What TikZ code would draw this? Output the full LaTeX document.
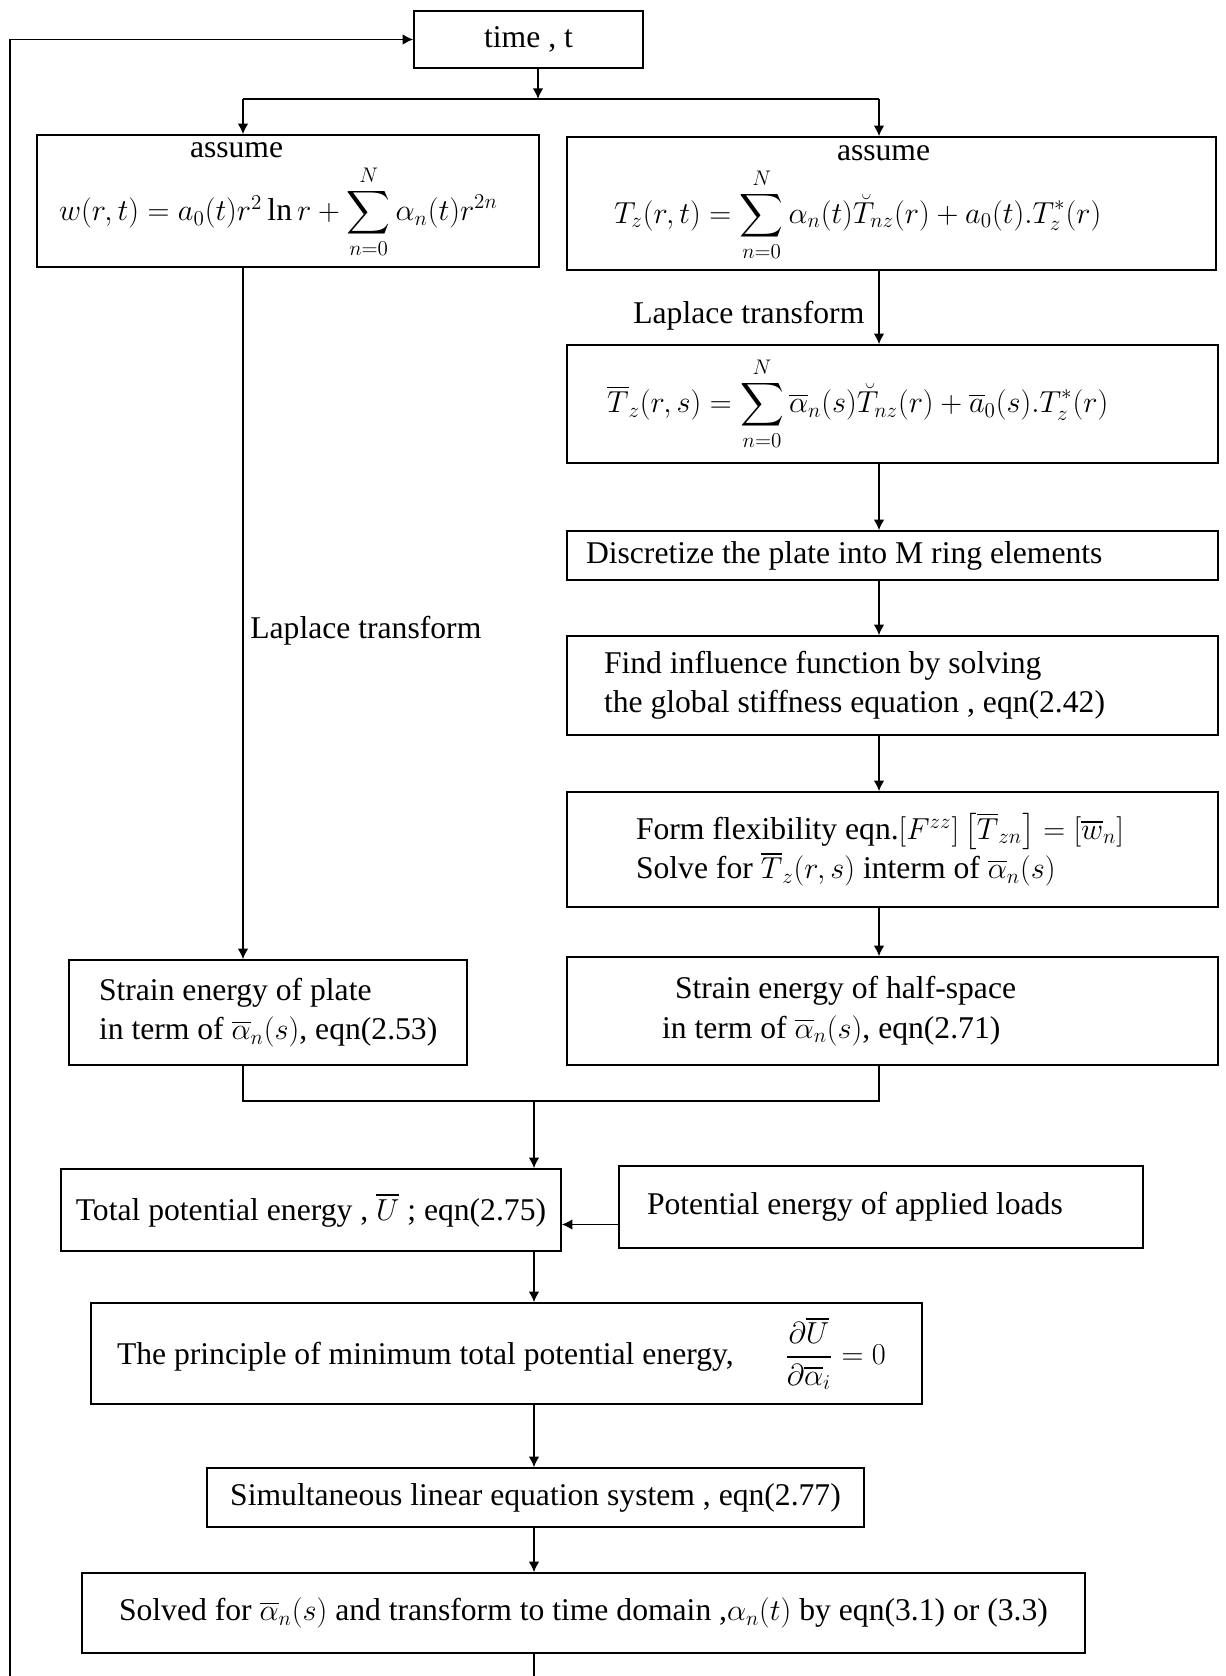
\documentclass[tikz,border=0pt]{standalone}
\usepackage{amsmath}
\usepackage{fontspec}
\setmainfont{Liberation Serif}
\usetikzlibrary{arrows.meta}

\begin{document}
\begin{tikzpicture}[
  box/.style={draw, line width=0.9pt, inner sep=0pt, align=center, font=\fontsize{18}{22.5}\selectfont},
  lbl/.style={inner sep=0pt, font=\fontsize{18}{22.5}\selectfont},
  arr/.style={-{Latex[length=6pt,width=6pt]}, line width=0.9pt},
  wire/.style={line width=0.9pt}
]
\useasboundingbox (0,0) rectangle (24.52,-33.52);
\fill[white] (0,0) rectangle (24.52,-33.52);

% top of the chart
\node[box, minimum width=4.58cm, minimum height=1.14cm] (time) at (10.57,-0.79) {time , t};
\node[box, text width=10.04cm, minimum height=2.64cm, align=flush left] (wL) at (5.76,-4.02)
  {\hspace*{3.06cm}assume\\[3pt]
   \hspace*{0.44cm}$w(r,t)=a_0(t)r^2\ln r+\displaystyle\sum_{n=0}^{N}\alpha_n(t)r^{2n}$};
\node[box, text width=12.98cm, minimum height=2.66cm, align=flush left] (tR) at (17.83,-4.07)
  {\hspace*{5.4cm}assume\\[3pt]
   \hspace*{0.94cm}$T_z(r,t)=\displaystyle\sum_{n=0}^{N}\alpha_n(t)\breve{T}_{nz}(r)+a_0(t).T_z^*(r)$};

% right column
\node[box, text width=13.02cm, minimum height=2.36cm, align=flush left] (tbar) at (17.85,-8.08)
  {\hspace*{0.8cm}$\overline{T}_z(r,s)=\displaystyle\sum_{n=0}^{N}\overline{\alpha}_n(s)\breve{T}_{nz}(r)+\overline{a}_0(s).T_z^*(r)$};
\node[box, text width=13.02cm, minimum height=0.98cm, align=flush left] (discr) at (17.85,-11.11)
  {\hspace*{0.38cm}Discretize the plate into M ring elements};
\node[box, text width=13.02cm, minimum height=1.98cm, align=flush left] (infl) at (17.85,-13.71)
  {\hspace*{0.74cm}Find influence function by solving\\
   \hspace*{0.74cm}the global stiffness equation , eqn(2.42)};
\node[box, text width=13.02cm, minimum height=2.3cm, align=flush left] (flex) at (17.85,-16.99)
  {\hspace*{1.38cm}Form flexibility eqn.$\left[F^{zz}\right]\left[\overline{T}_{zn}\right]=\left[\overline{w}_n\right]$\\
   \hspace*{1.38cm}Solve for $\overline{T}_z(r,s)$ interm of $\overline{\alpha}_n(s)$};
\node[box, text width=13.02cm, minimum height=2.16cm, align=flush left] (half) at (17.85,-20.22)
  {\hspace*{2.16cm}Strain energy of half-space\\
   \hspace*{1.9cm}in term of $\overline{\alpha}_n(s)$, eqn(2.71)};

% left column
\node[box, text width=7.96cm, minimum height=2.1cm, align=flush left] (plate) at (5.36,-20.25)
  {\hspace*{0.6cm}Strain energy of plate\\
   \hspace*{0.6cm}in term of $\overline{\alpha}_n(s)$, eqn(2.53)};
\node[lbl, anchor=base west] (lapR) at (12.66,-6.46) {Laplace transform};
\node[lbl, anchor=west] (lapL) at (5.0,-12.62) {Laplace transform};

% lower part
\node[box, minimum width=10.0cm, minimum height=1.64cm] (total) at (6.22,-24.2)
  {Total potential energy , $\overline{U}$ ; eqn(2.75)};
\node[box, text width=10.48cm, minimum height=1.64cm, align=flush left] (loads) at (17.62,-24.14)
  {\hspace*{0.56cm}Potential energy of applied loads};
\node[box, text width=16.62cm, minimum height=2.02cm, align=flush left] (princ) at (10.13,-27.07)
  {\hspace*{0.52cm}The principle of minimum total potential energy,\hspace{1.02cm}$\dfrac{\partial\overline{U}}{\partial\overline{\alpha}_i}=0$};
\node[box, minimum width=13.14cm, minimum height=1.18cm] (simul) at (10.71,-29.95)
  {Simultaneous linear equation system , eqn(2.77)};
\node[box, minimum width=20.06cm, minimum height=1.6cm] (solved) at (11.67,-32.26)
  {Solved for $\overline{\alpha}_n(s)$ and transform to time domain ,$\alpha_n(t)$ by eqn(3.1) or (3.3)};

% connectors
\coordinate (fork) at (10.76,-1.98);
\coordinate (forkL) at (4.86,-1.98);
\coordinate (forkR) at (17.58,-1.98);
\coordinate (joinL) at (4.86,-22.02);
\coordinate (joinR) at (17.58,-22.02);
\coordinate (join) at (10.68,-22.02);
\coordinate (bottom) at (10.68,-33.52);
\coordinate (loopB) at (0.2,-33.52);
\coordinate (loopT) at (0.2,-0.79);

\draw[arr] (time.south -| fork) -- (fork);
\draw[wire] (forkL) -- (forkR);
\draw[arr] (forkL) -- (forkL |- wL.north);
\draw[arr] (forkR) -- (forkR |- tR.north);
\draw[arr] (tR.south -| forkR) -- (forkR |- tbar.north);
\draw[arr] (tbar.south -| forkR) -- (forkR |- discr.north);
\draw[arr] (discr.south -| forkR) -- (forkR |- infl.north);
\draw[arr] (infl.south -| forkR) -- (forkR |- flex.north);
\draw[arr] (flex.south -| forkR) -- (forkR |- half.north);
\draw[arr] (wL.south -| forkL) -- (forkL |- plate.north);
\draw[wire] (plate.south -| joinL) -- (joinL) -- (joinR) -- (half.south -| joinR);
\draw[arr] (join) -- (join |- total.north);
\draw[arr] ([yshift=-0.35cm]loads.west) -- ([yshift=-0.35cm]loads.west -| total.east);
\draw[arr] (total.south -| join) -- (join |- princ.north);
\draw[arr] (princ.south -| join) -- (join |- simul.north);
\draw[arr] (simul.south -| join) -- (join |- solved.north);
\draw[wire] (solved.south -| join) -- (bottom);
\draw[arr] (loopB) -- (loopT) -- (time.west);
\end{tikzpicture}
\end{document}
